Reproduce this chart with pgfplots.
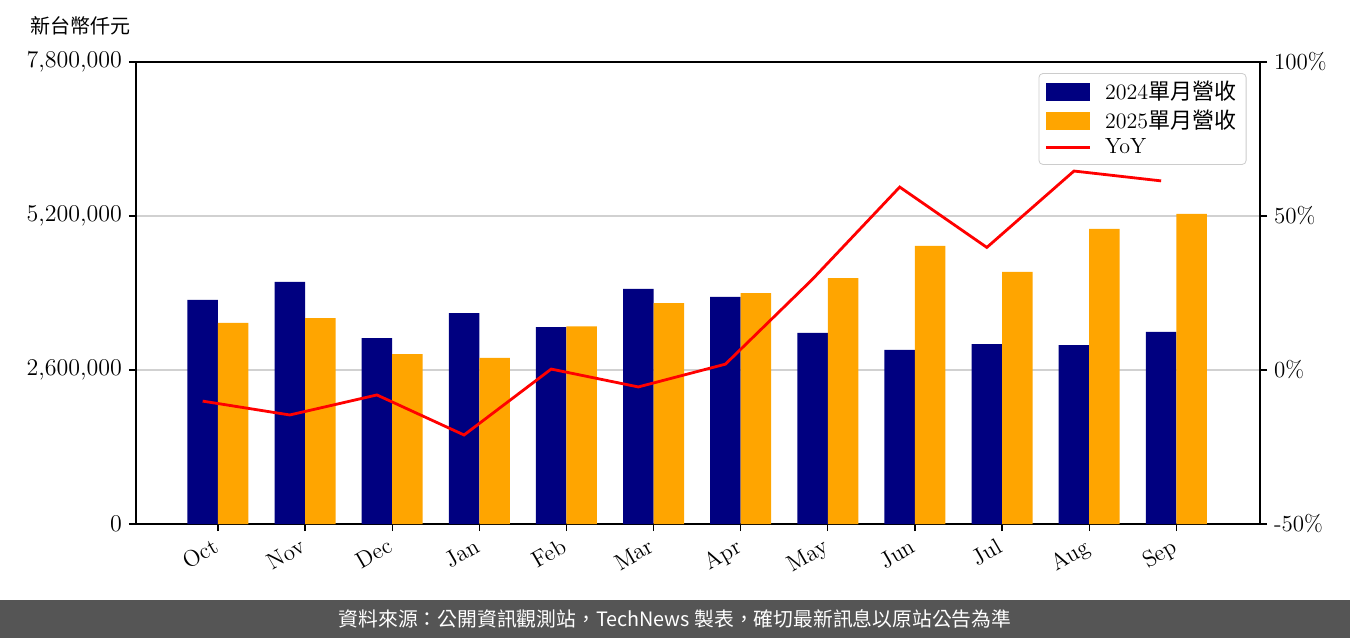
\documentclass[border=0pt]{standalone}
\usepackage{pgfplots}
\pgfplotsset{compat=1.18}
\usepackage{fontspec}
\newfontfamily\cjk{Noto Sans CJK TC}
\definecolor{navyc}{HTML}{000080}
\definecolor{orangec}{HTML}{FFA500}
\definecolor{footgray}{HTML}{555555}
\begin{document}
\begin{tikzpicture}
\path[use as bounding box] (0,0) rectangle (675pt,319pt);
\fill[footgray] (0,0) rectangle (675pt,19pt);
\node[text=white, font=\cjk\fontsize{9.9}{11}\selectfont] at (337.5pt,9.5pt) {資料來源：公開資訊觀測站，TechNews 製表，確切最新訊息以原站公告為準};
\node[anchor=west, font=\cjk\fontsize{10}{12}\selectfont, inner sep=0pt] at (15pt,306pt) {新台幣仟元};
\begin{axis}[
  at={(68pt,57pt)}, anchor=south west, scale only axis,
  width=562pt, height=231pt,
  xmin=-0.94, xmax=11.96, ymin=0, ymax=7800000,
  ytick={0,2600000,5200000,7800000},
  scaled y ticks=false,
  /pgf/number format/.cd, fixed, 1000 sep={,}, assume math mode=true, /pgfplots/.cd,
  ymajorgrids, grid style={black!18, line width=0.6pt},
  xtick={0,...,11},
  xticklabels={Oct,Nov,Dec,Jan,Feb,Mar,Apr,May,Jun,Jul,Aug,Sep},
  x tick label style={rotate=30, anchor=north east, inner sep=1pt, xshift=-3pt, font=\fontsize{11.5}{13}\selectfont},
  y tick label style={font=\fontsize{12}{14}\selectfont},
  tick align=outside, xtick pos=bottom, ytick pos=left,
  major tick length=3.5pt,
  tick style={black, line width=0.6pt},
  axis line style={line width=0.9pt},
]
\addplot[ybar, bar width=0.35, bar shift=-0.175, fill=navyc, draw=none] coordinates {
(0,3782000) (1,4086000) (2,3140000) (3,3562000) (4,3326000) (5,3968000)
(6,3833000) (7,3225000) (8,2938000) (9,3039000) (10,3022000) (11,3242000)};
\addplot[ybar, bar width=0.35, bar shift=0.175, fill=orangec, draw=none] coordinates {
(0,3394000) (1,3478000) (2,2870000) (3,2803000) (4,3336000) (5,3731000)
(6,3900000) (7,4153000) (8,4694000) (9,4255000) (10,4981000) (11,5234000)};
\end{axis}
\begin{axis}[
  at={(68pt,57pt)}, anchor=south west, scale only axis,
  width=562pt, height=231pt,
  xmin=-0.94, xmax=11.96, ymin=-50, ymax=100,
  ytick={-50,0,50,100}, xtick=\empty, xticklabels={},
  axis x line=none, axis y line*=right,
  /pgf/number format/assume math mode=true,
  yticklabel={\pgfmathprintnumber{\tick}\%},
  tick align=outside, major tick length=3.5pt,
  tick style={black, line width=0.6pt},
  axis line style={line width=0.9pt},
  y tick label style={font=\fontsize{11.5}{13}\selectfont},
  legend style={at={(0.988,0.976)}, anchor=north east, draw=black!20, rounded corners=2pt,
    fill=white, fill opacity=0.85, text opacity=1, row sep=-0.5pt, column sep=5pt,
    font=\fontsize{11}{13}\selectfont, inner xsep=3pt, inner ysep=2pt},
  legend cell align=left,
]
\addlegendimage{legend image code/.code={\fill[navyc, sharp corners, fill opacity=1] (0cm,-0.15cm) rectangle (0.76cm,0.15cm);}}
\addlegendentry{2024{\cjk 單月營收}}
\addlegendimage{legend image code/.code={\fill[orangec, sharp corners, fill opacity=1] (0cm,-0.15cm) rectangle (0.76cm,0.15cm);}}
\addlegendentry{2025{\cjk 單月營收}}
\addplot[red, line width=1.4pt, mark=none, legend image code/.code={\draw[red, line width=1.4pt, sharp corners, draw opacity=1] (0cm,0cm) -- (0.76cm,0cm);}] coordinates {
(-0.175,-10.1) (0.825,-14.6) (1.825,-8.1) (2.825,-21.1) (3.825,0.3) (4.825,-5.5)
(5.825,1.9) (6.825,29.5) (7.825,59.4) (8.825,39.8) (9.825,64.6) (10.825,61.4)};
\addlegendentry{YoY}
\end{axis}
\end{tikzpicture}
\end{document}
